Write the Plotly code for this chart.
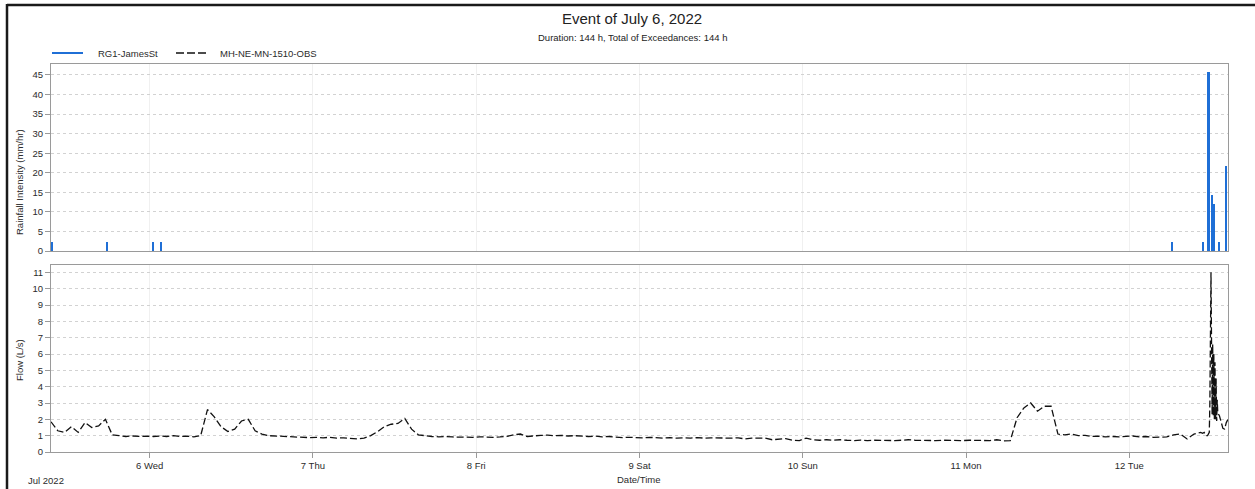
import pandas as pd
import plotly.graph_objects as go
from plotly.subplots import make_subplots

# ---- data ---------------------------------------------------------------
# Rain gauge RG1-JamesSt: intensity (mm/hr) at each recorded interval
rain_times = [
    "2022-07-05 09:45", "2022-07-05 17:50", "2022-07-06 00:30", "2022-07-06 01:45",
    "2022-07-12 06:15", "2022-07-12 10:50", "2022-07-12 11:40", "2022-07-12 12:15",
    "2022-07-12 12:30", "2022-07-12 13:15", "2022-07-12 14:15",
]
rain_values = [2.4, 2.4, 2.4, 2.4, 2.4, 2.4, 45.7, 14.4, 12.1, 2.3, 21.7]

# Flow monitor MH-NE-MN-1510-OBS: hourly flow (L/s) from 2022-07-05 09:30
flow_start = "2022-07-05 09:30"
flow_hourly = [
    1.85, 1.3, 1.2, 1.55, 1.2, 1.8, 1.5, 1.6, 2.0, 1.05,
    1.0, 0.95, 0.98, 0.95, 0.97, 0.95, 0.98, 0.95, 1.0, 0.95,
    0.97, 0.93, 1.0, 2.6, 2.15, 1.55, 1.25, 1.4, 1.9, 2.0,
    1.3, 1.1, 1.0, 0.98, 0.95, 0.93, 0.95, 0.9, 0.88, 0.9,
    0.87, 0.9, 0.85, 0.87, 0.82, 0.8, 0.85, 1.0, 1.25, 1.55,
    1.7, 1.75, 2.05, 1.4, 1.05, 0.98, 0.95, 0.93, 0.95, 0.92,
    0.9, 0.92, 0.9, 0.93, 0.9, 0.9, 0.92, 0.95, 1.05, 1.1,
    0.95, 1.0, 1.02, 1.03, 1.0, 1.02, 0.98, 1.0, 0.96, 0.95,
    0.97, 0.92, 0.95, 0.9, 0.88, 0.9, 0.88, 0.87, 0.9, 0.88,
    0.85, 0.88, 0.85, 0.87, 0.85, 0.88, 0.85, 0.87, 0.85, 0.86,
    0.85, 0.87, 0.8, 0.85, 0.83, 0.85, 0.75, 0.8, 0.82, 0.72,
    0.7, 0.85, 0.75, 0.72, 0.75, 0.72, 0.75, 0.72, 0.7, 0.73,
    0.7, 0.72, 0.7, 0.72, 0.7, 0.72, 0.75, 0.72, 0.7, 0.72,
    0.7, 0.72, 0.7, 0.72, 0.7, 0.72, 0.7, 0.72, 0.7, 0.75,
    0.68, 0.7, 2.1, 2.7, 3.0, 2.5, 2.8, 2.8, 1.1, 1.05,
    1.1, 1.0, 1.02, 0.95, 0.97, 0.93, 0.95, 0.92, 0.95, 0.98,
    0.92, 0.95, 0.9, 0.93, 0.92, 1.05, 1.1, 0.8, 1.1, 1.2,
]

# Higher-resolution flow readings around the storm peak on Jul 12
flow_peak_times = [
    "2022-07-12 10:45", "2022-07-12 11:00", "2022-07-12 11:15", "2022-07-12 11:30",
    "2022-07-12 11:35", "2022-07-12 11:40", "2022-07-12 11:45", "2022-07-12 11:50",
    "2022-07-12 11:55", "2022-07-12 12:00", "2022-07-12 12:05", "2022-07-12 12:10",
    "2022-07-12 12:15", "2022-07-12 12:20", "2022-07-12 12:25", "2022-07-12 12:30",
    "2022-07-12 12:35", "2022-07-12 12:40", "2022-07-12 12:45", "2022-07-12 12:50",
    "2022-07-12 12:55", "2022-07-12 13:00", "2022-07-12 13:15", "2022-07-12 13:30",
    "2022-07-12 13:45", "2022-07-12 14:00", "2022-07-12 14:15", "2022-07-12 14:30",
]
flow_peak_values = [
    1.15, 1.2, 1.0, 1.0, 1.05, 1.1, 1.2, 3.0, 8.0, 11.0, 6.5, 2.3, 6.6, 2.2,
    6.0, 2.0, 5.5, 2.0, 4.5, 1.9, 3.2, 2.4, 2.2, 1.8, 1.45, 1.4, 1.8, 2.0,
]

day_ticks = ["2022-07-06", "2022-07-07", "2022-07-08", "2022-07-09",
             "2022-07-10", "2022-07-11", "2022-07-12"]
x_range = ["2022-07-05 09:30", "2022-07-12 14:30"]

# ---- build series -------------------------------------------------------
flow_times = list(pd.date_range(flow_start, periods=len(flow_hourly), freq="h"))
flow_times += list(pd.to_datetime(flow_peak_times))
flow_values = flow_hourly + flow_peak_values

# ---- geometry (pixels) ---------------------------------------------------
W, H = 1255, 489
L, R, T, B = 51, 1228, 64, 452
PW, PH = R - L, B - T


def px(x):
    return (x - L) / PW


def py(y):
    return (B - y) / PH


FONT = "Arial, Liberation Sans, sans-serif"
TXT = "#2b2b2b"
BLUE = "#1f6fd6"

fig = make_subplots(rows=2, cols=1, shared_xaxes=True, vertical_spacing=0.0)

fig.add_trace(go.Bar(
    x=pd.to_datetime(rain_times), y=rain_values, width=14 * 60 * 1000,
    marker=dict(color=BLUE, line=dict(width=0)), showlegend=False,
    name="RG1-JamesSt"), row=1, col=1)

fig.add_trace(go.Scatter(
    x=flow_times, y=flow_values, mode="lines",
    line=dict(color="#111111", width=1.3, dash="7px,3px"),
    showlegend=False, name="MH-NE-MN-1510-OBS"), row=2, col=1)

axis_common = dict(
    showline=True, linecolor="#9a9a9a", linewidth=1, mirror=True,
    ticks="outside", ticklen=5, tickcolor="#9a9a9a",
    tickfont=dict(family=FONT, size=9.5, color=TXT), zeroline=False,
)

fig.update_xaxes(
    range=x_range, tickvals=pd.to_datetime(day_ticks), tickformat="%-d %a",
    showgrid=True, gridcolor="#f0f0f0", gridwidth=1, **axis_common)
fig.update_xaxes(showticklabels=False, ticks="", row=1, col=1)

fig.update_yaxes(
    showgrid=True, gridcolor="#d2d2d2", griddash="3px,3px", gridwidth=1, **axis_common)
fig.update_yaxes(range=[0, 47.8], tickvals=list(range(0, 50, 5)), row=1, col=1)
fig.update_yaxes(range=[0, 11.45], tickvals=list(range(0, 12)), row=2, col=1)

fig.update_layout(
    xaxis=dict(domain=[0, 1]),
    yaxis=dict(domain=[py(251), 1]),
    yaxis2=dict(domain=[0, py(265)]),
    bargap=0,
)

annotations = [
    dict(text="Event of July 6, 2022", x=px(632), y=py(19), font=dict(size=15, color="#222")),
    dict(text="Duration: 144 h, Total of Exceedances: 144 h", x=px(632), y=py(37),
         font=dict(size=9.5, color="#222")),
    dict(text="Rainfall Intensity (mm/hr)", x=px(19), y=py(182), textangle=-90,
         font=dict(size=9.5, color=TXT)),
    dict(text="Flow (L/s)", x=px(19), y=py(360), textangle=-90,
         font=dict(size=9.5, color=TXT)),
    dict(text="Date/Time", x=px(638), y=py(479), font=dict(size=9.5, color=TXT)),
    dict(text="Jul 2022", x=px(46), y=py(480), font=dict(size=9.5, color=TXT)),
    dict(text="RG1-JamesSt", x=px(96), y=py(53), xanchor="left",
         font=dict(size=9.5, color=TXT)),
    dict(text="MH-NE-MN-1510-OBS", x=px(218), y=py(53), xanchor="left",
         font=dict(size=9.5, color=TXT)),
]
for a in annotations:
    a.setdefault("xanchor", "center")
    a.update(xref="paper", yref="paper", yanchor="middle", showarrow=False)
    a["font"]["family"] = FONT

shapes = [
    # legend samples
    dict(type="line", x0=px(52), x1=px(83), y0=py(53), y1=py(53),
         line=dict(color=BLUE, width=2)),
    dict(type="line", x0=px(176), x1=px(209), y0=py(53), y1=py(53),
         line=dict(color="#111111", width=1.4, dash="8px,3px")),
    # outer frame
    dict(type="line", x0=px(7), x1=px(W + 5), y0=py(5), y1=py(5),
         line=dict(color="#1a1a1a", width=2.5)),
    dict(type="line", x0=px(7), x1=px(7), y0=py(4), y1=py(H + 5),
         line=dict(color="#1a1a1a", width=2.5)),
]
for s in shapes:
    s.update(xref="paper", yref="paper")

fig.update_layout(
    width=W, height=H,
    margin=dict(l=L, r=W - R, t=T, b=H - B, pad=0),
    paper_bgcolor="white", plot_bgcolor="white",
    font=dict(family=FONT, size=9.5, color=TXT),
    annotations=annotations, shapes=shapes, showlegend=False,
)

fig.write_html("out.html")
